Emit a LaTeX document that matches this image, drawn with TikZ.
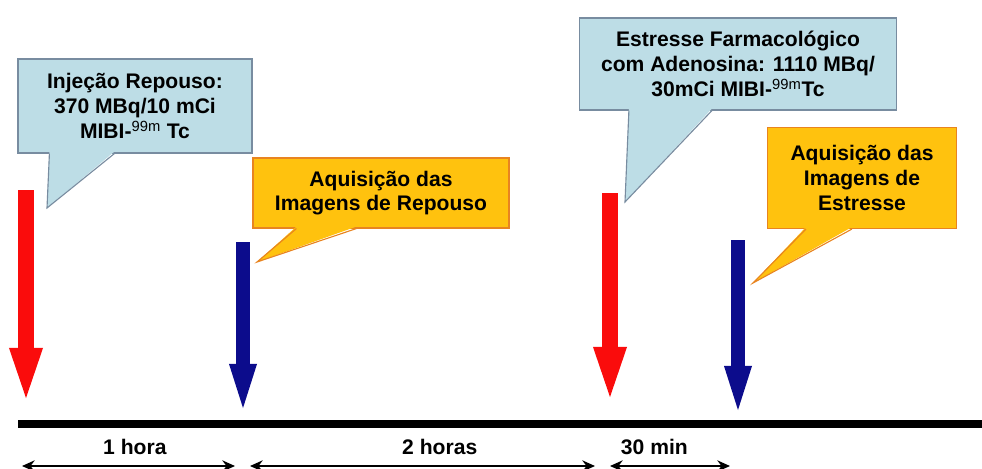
\documentclass[tikz,border=0pt]{standalone}
\usepackage{fontspec}
\setmainfont{Liberation Sans}
\usetikzlibrary{arrows.meta, positioning, calc}

\definecolor{calloutblue}{RGB}{189,221,230}
\definecolor{calloutblueline}{RGB}{120,140,160}
\definecolor{calloutgold}{RGB}{255,194,14}
\definecolor{calloutgoldline}{RGB}{232,132,32}
\definecolor{injred}{RGB}{250,12,12}
\definecolor{acqblue}{RGB}{12,12,140}

\begin{document}
\begin{tikzpicture}[
    x=0.025cm, y=-0.025cm,
    bluebox/.style={rectangle, draw=calloutblueline, fill=calloutblue, thick, align=center, inner sep=2pt, font=\bfseries\fontsize{15}{18}\selectfont},
    goldbox/.style={rectangle, draw=calloutgoldline, fill=calloutgold, thick, align=center, inner sep=2pt, font=\bfseries\fontsize{15}{17.5}\selectfont},
    bluetail/.style={fill=calloutblue},
    bluetailline/.style={draw=calloutblueline, thick},
    goldtail/.style={fill=calloutgold},
    goldtailline/.style={draw=calloutgoldline, thick},
    injarrow/.style={line width=0.4cm, injred, -{Triangle[width=0.85cm, length=1.25cm, line width=0pt]}},
    acqarrow/.style={line width=0.33cm, acqblue, -{Triangle[width=0.7cm, length=1.1cm, line width=0pt]}},
    span/.style={{Stealth[length=9pt, width=8pt]}-{Stealth[length=9pt, width=8pt]}, line width=2pt},
    spanlabel/.style={above=6pt, inner sep=1pt, font=\bfseries\fontsize{15}{17}\selectfont}
]
\useasboundingbox (0,0) rectangle (982,468);

% Callouts
\node[bluebox, minimum width=5.85cm, minimum height=2.35cm] (restinj) at (135,106) {Injeção Repouso:\\370 MBq/10 mCi\\MIBI-\textsuperscript{\mdseries 99m} Tc};
\node[goldbox, minimum width=6.4cm, minimum height=1.75cm] (restacq) at (381,193) {Aquisição das\\Imagens de Repouso};
\node[bluebox, minimum width=7.925cm, minimum height=2.3cm] (stressinj) at (738,64) {Estresse Farmacológico\\com Adenosina: 1110 MBq/\\30mCi MIBI-\textsuperscript{\mdseries 99m}Tc};
\node[goldbox, minimum width=4.725cm, minimum height=2.525cm] (stressacq) at (862,178) {Aquisição das\\Imagens de\\Estresse};

% Callout tails
\coordinate (restinjtip) at (47,208);
\coordinate (restacqtip) at (257,262);
\coordinate (stressinjtip) at (625,202);
\coordinate (stressacqtip) at (753,283);
\fill[bluetail] ($(restinj.south west)+(32,-2)$) -- (restinjtip) -- ($(restinj.south west)+(97,-2)$) -- cycle;
\draw[bluetailline] ($(restinj.south west)+(32,0)$) -- (restinjtip) -- ($(restinj.south west)+(97,0)$);
\fill[goldtail] ($(restacq.south west)+(44,-2)$) -- (restacqtip) -- ($(restacq.south west)+(104,-2)$) -- cycle;
\draw[goldtailline] ($(restacq.south west)+(44,0)$) -- (restacqtip) -- ($(restacq.south west)+(104,0)$);
\fill[bluetail] ($(stressinj.south west)+(50,-2)$) -- (stressinjtip) -- ($(stressinj.south west)+(133,-2)$) -- cycle;
\draw[bluetailline] ($(stressinj.south west)+(50,0)$) -- (stressinjtip) -- ($(stressinj.south west)+(133,0)$);
\fill[goldtail] ($(stressacq.south west)+(39,-2)$) -- (stressacqtip) -- ($(stressacq.south west)+(85,-2)$) -- cycle;
\draw[goldtailline] ($(stressacq.south west)+(39,0)$) -- (stressacqtip) -- ($(stressacq.south west)+(85,0)$);

% Event arrows
\coordinate (restinjtop) at (26,190);
\coordinate (restinjend) at (26,398);
\coordinate (restacqtop) at (243,242);
\coordinate (restacqend) at (243,408);
\coordinate (stressinjtop) at (610,193);
\coordinate (stressinjend) at (610,397);
\coordinate (stressacqtop) at (738,240);
\coordinate (stressacqend) at (738,410);
\draw[injarrow] (restinjtop) -- (restinjend);
\draw[acqarrow] (restacqtop) -- (restacqend);
\draw[injarrow] (stressinjtop) -- (stressinjend);
\draw[acqarrow] (stressacqtop) -- (stressacqend);

% Time line
\coordinate (tstart) at (18,424);
\coordinate (tend) at (982,424);
\draw[line width=0.18cm] (tstart) -- (tend);

% Intervals
\coordinate (s0) at (22,466);
\coordinate (s1) at (235,466);
\coordinate (s2) at (250,466);
\coordinate (s3) at (595,466);
\coordinate (s4) at (610,466);
\coordinate (s5) at (730,466);
\draw[span] (s0) -- node[spanlabel, pos=0.53] {1 hora} (s1);
\draw[span] (s2) -- node[spanlabel, pos=0.55] {2 horas} (s3);
\draw[span] (s4) -- node[spanlabel, pos=0.37] {30 min} (s5);

\end{tikzpicture}
\end{document}
